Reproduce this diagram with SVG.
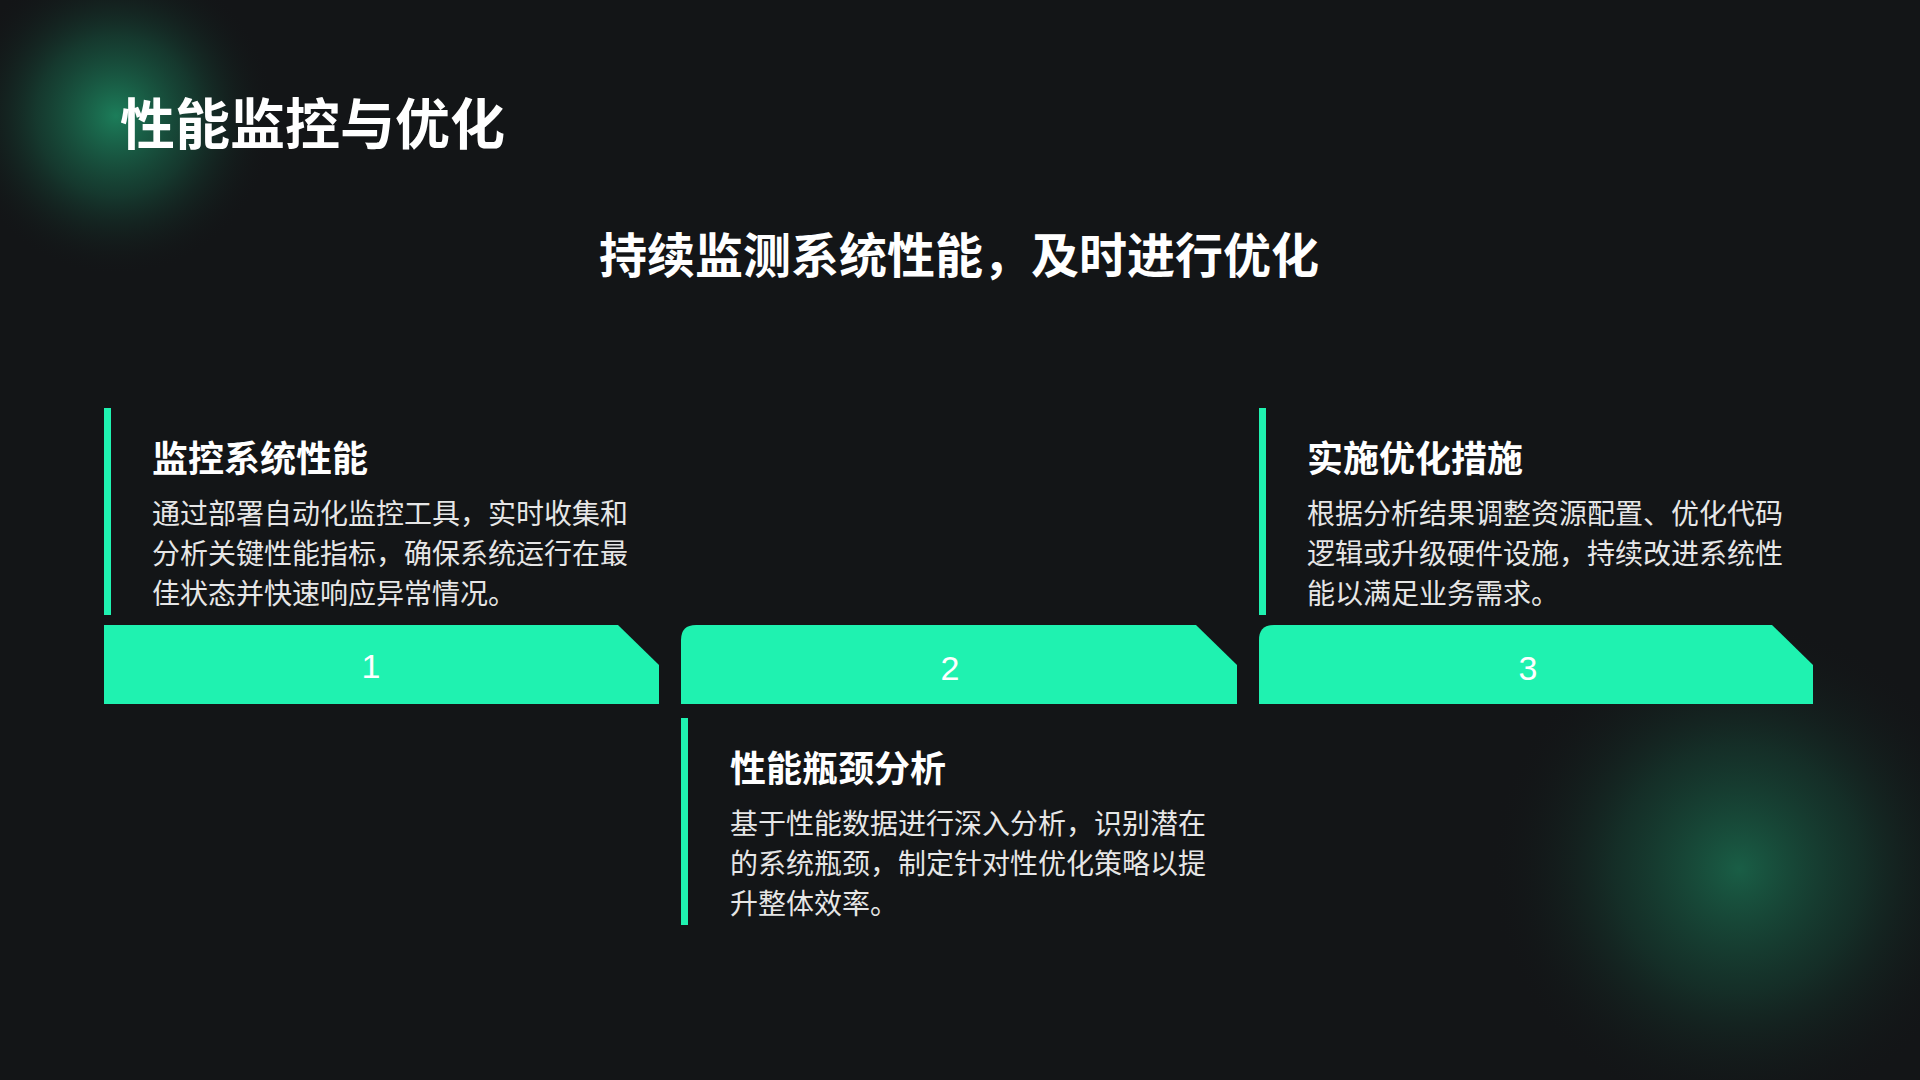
<svg xmlns="http://www.w3.org/2000/svg" width="1920" height="1080" viewBox="0 0 1920 1080">
<defs>
<radialGradient id="g1"><stop offset="0" stop-color="#1fa070" stop-opacity="0.75"/><stop offset="0.5" stop-color="#1a7a58" stop-opacity="0.35"/><stop offset="1" stop-color="#131517" stop-opacity="0"/></radialGradient>
<style>
text{font-family:"Noto Sans CJK SC","Noto Sans",sans-serif;fill:#fff}
.h{font-size:36px;font-weight:700}
.b{font-size:28px;fill:#e6e6e6}
.n{font-family:"Liberation Sans",sans-serif;font-size:34px;text-anchor:middle}
.bar{fill:#1ff2b0}
</style>
</defs>
<rect width="1920" height="1080" fill="#131517"/>
<circle cx="116" cy="116" r="160" fill="url(#g1)"/>
<circle cx="1739" cy="869" r="250" fill="url(#g1)" opacity="0.7"/>
<text x="120" y="144" style="font-size:55px;font-weight:700">性能监控与优化</text>
<text x="959" y="273" style="font-size:48px;font-weight:700" text-anchor="middle">持续监测系统性能，及时进行优化</text>
<g id="step1">
<rect class="bar" x="104" y="408" width="7" height="207"/>
<text class="h" x="152" y="472">监控系统性能</text>
<text class="b" x="152" y="524">通过部署自动化监控工具，实时收集和</text>
<text class="b" x="152" y="564">分析关键性能指标，确保系统运行在最</text>
<text class="b" x="152" y="604">佳状态并快速响应异常情况。</text>
<path class="bar" d="M104 625H618L659 665V704H104Z"/>
<text class="n" x="371" y="678">1</text>
</g>
<g id="step2">
<path class="bar" d="M696 625H1196L1237 665V704H681V640Q681 625 696 625Z"/>
<text class="n" x="950" y="680">2</text>
<rect class="bar" x="681" y="718" width="7" height="207"/>
<text class="h" x="730" y="782">性能瓶颈分析</text>
<text class="b" x="730" y="834">基于性能数据进行深入分析，识别潜在</text>
<text class="b" x="730" y="874">的系统瓶颈，制定针对性优化策略以提</text>
<text class="b" x="730" y="914">升整体效率。</text>
</g>
<g id="step3">
<rect class="bar" x="1259" y="408" width="7" height="207"/>
<text class="h" x="1307" y="472">实施优化措施</text>
<text class="b" x="1307" y="524">根据分析结果调整资源配置、优化代码</text>
<text class="b" x="1307" y="564">逻辑或升级硬件设施，持续改进系统性</text>
<text class="b" x="1307" y="604">能以满足业务需求。</text>
<path class="bar" d="M1274 625H1772L1813 665V704H1259V640Q1259 625 1274 625Z"/>
<text class="n" x="1528" y="680">3</text>
</g>
<g id="connectors"/>
</svg>
